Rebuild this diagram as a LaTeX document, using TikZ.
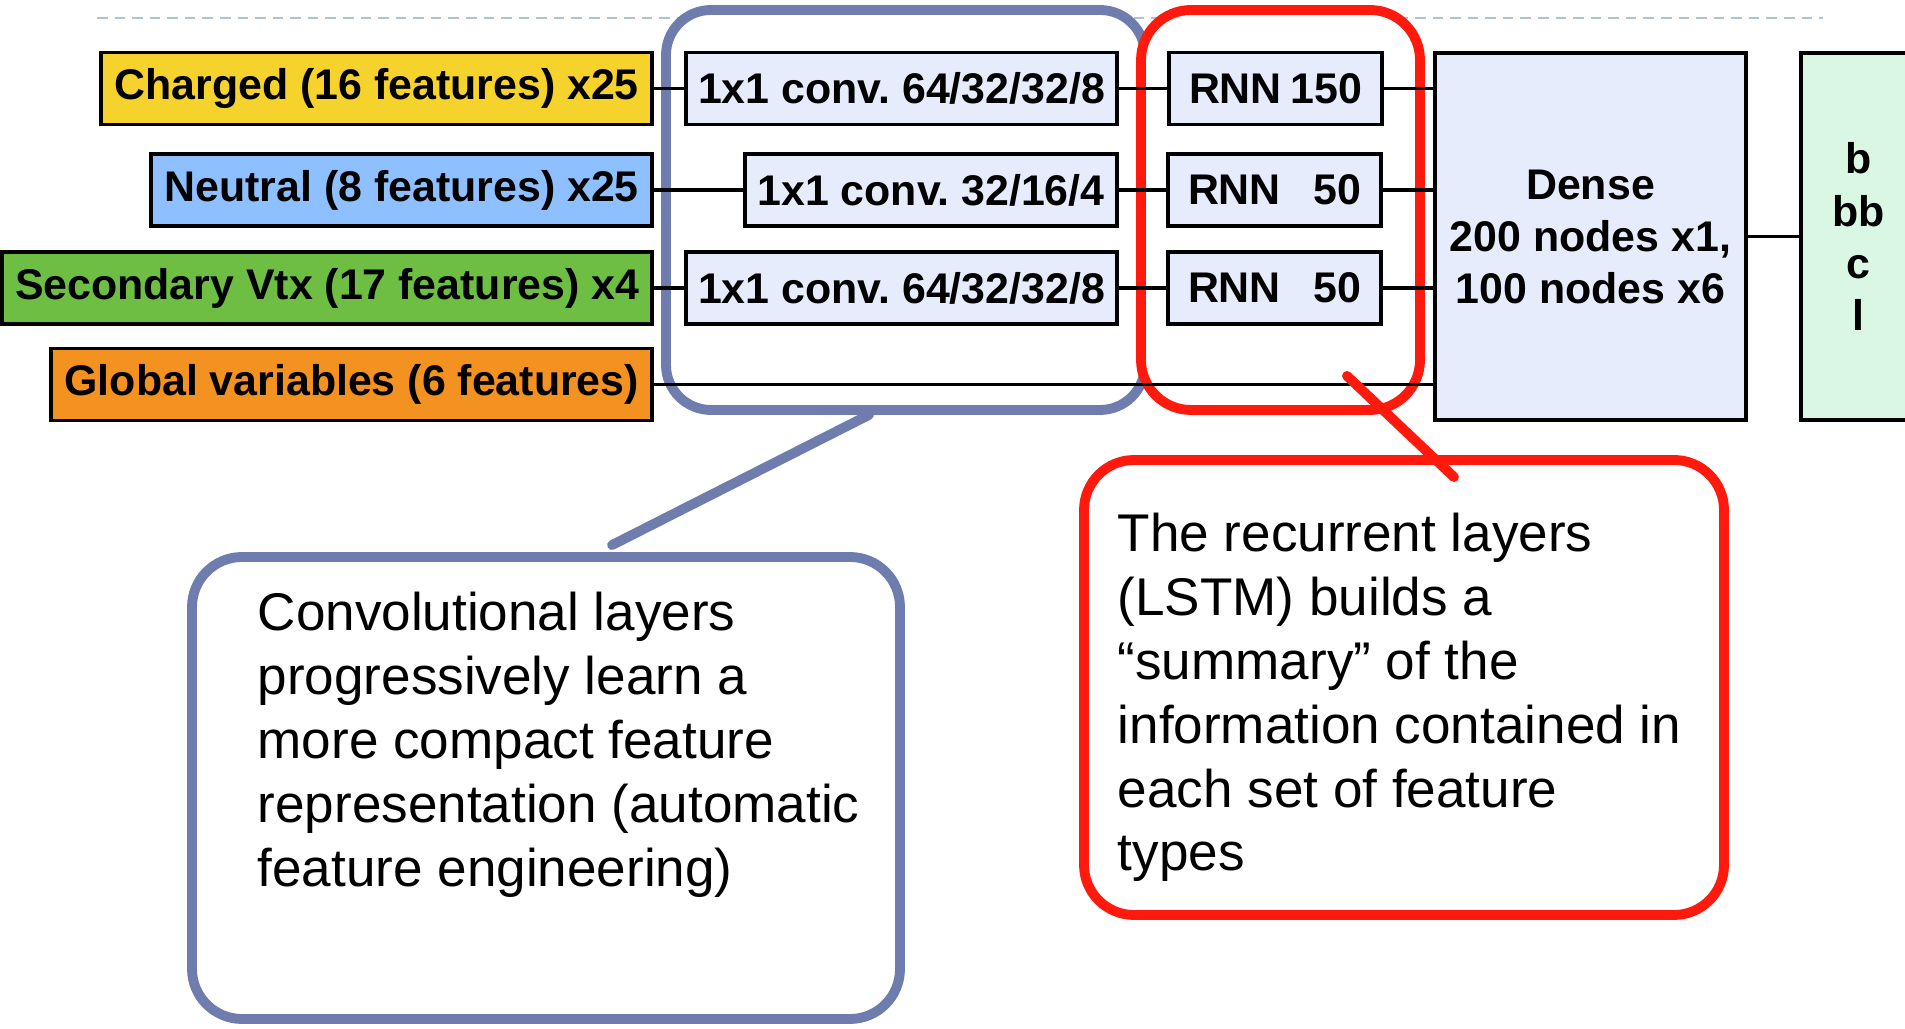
\documentclass[tikz,border=0pt]{standalone}
\usepackage{fontspec}
\setmainfont{Liberation Sans}
\usetikzlibrary{positioning,calc}
\definecolor{jetGold}{HTML}{F6D22C}
\definecolor{jetSky}{HTML}{8EC0FF}
\definecolor{jetLeaf}{HTML}{6EBE44}
\definecolor{jetOrange}{HTML}{F39220}
\definecolor{jetLilac}{HTML}{E6ECFC}
\definecolor{jetMint}{HTML}{DAF7E4}
\definecolor{jetSlate}{HTML}{6F7DAE}
\definecolor{jetRed}{HTML}{FF1A0D}
\definecolor{jetRule}{HTML}{AFC3D6}
\frenchspacing

\begin{document}
\begin{tikzpicture}[font=\fontsize{12.2}{14.8}\selectfont\bfseries,
    box/.style={draw=black,line width=1pt,minimum height=0.72cm,inner sep=0pt,align=center},
    feat/.style={box,anchor=east},
    conv/.style={box,fill=jetLilac,minimum width=4.31cm},
    rnn/.style={box,fill=jetLilac,minimum width=2.13cm,text width=1.73cm,align=left},
    dense/.style={box,fill=jetLilac,minimum width=3.11cm,minimum height=3.67cm},
    outbox/.style={box,fill=jetMint,minimum width=1.15cm,minimum height=3.67cm,anchor=west},
    wire/.style={line width=1.1pt},
    grp/.style={line width=2.8pt,rounded corners=0.45cm,inner sep=0pt,fill=white},
    callout/.style={grp,rounded corners=0.5cm},
    calltext/.style={font=\fontsize{15.1}{18.2}\selectfont,align=left,inner sep=0pt,anchor=north west},
    tail/.style={line width=2.8pt,line cap=round}]

  \useasboundingbox (0,0) rectangle (19.05,-10.29);
  \draw[jetRule,line width=0.6pt,dash pattern=on 3pt off 2pt] (0.97,-0.18) -- (18.23,-0.18);

  % layer groups
  \node[grp,draw=jetSlate,minimum width=4.79cm,minimum height=4.0cm] (cgrp) at (9.055,-2.10) {};
  \node[grp,draw=jetRed,minimum width=2.79cm,minimum height=4.0cm,rounded corners=0.5cm] (rgrp) at (12.805,-2.10) {};

  % input feature sets
  \node[feat,fill=jetGold,minimum width=5.51cm] (ch) at (6.54,-0.885) {Charged (16 features) x25};
  \node[feat,fill=jetSky,minimum width=5.01cm] (ne) at (6.54,-1.90) {Neutral (8 features) x25};
  \node[feat,fill=jetLeaf,minimum width=6.50cm] (sv) at (6.54,-2.88) {Secondary Vtx (17 features) x4};
  \node[feat,fill=jetOrange,minimum width=6.01cm] (gl) at (6.54,-3.845) {Global variables (6 features)};

  % convolutions
  \node[conv] (c1) at (9.015,-0.885) {1x1 conv. 64/32/32/8};
  \node[conv,minimum width=3.72cm] (c2) at (9.31,-1.90) {1x1 conv. 32/16/4};
  \node[conv] (c3) at (9.015,-2.88) {1x1 conv. 64/32/32/8};

  % recurrent layers
  \node[rnn] (r1) at (12.755,-0.885) {RNN\hfill 150};
  \node[rnn] (r2) at (12.745,-1.90) {RNN\hfill 50};
  \node[rnn] (r3) at (12.745,-2.88) {RNN\hfill 50};

  \node[dense] (dn) at (15.905,-2.365) {Dense\\200 nodes x1,\\100 nodes x6};
  \node[outbox] (out) at (17.99,-2.365) {b\\bb\\c\\l};

  \draw[wire] (ch) -- (c1);
  \draw[wire] (ne) -- (c2);
  \draw[wire] (sv) -- (c3);
  \draw[wire] (c1) -- (r1);
  \draw[wire] (c2) -- (r2);
  \draw[wire] (c3) -- (r3);
  \draw[wire] (r1) -- (r1 -| dn.west);
  \draw[wire] (r2) -- (r2 -| dn.west);
  \draw[wire] (r3) -- (r3 -| dn.west);
  \draw[wire] (gl) -- (gl -| dn.west);
  \draw[wire] (dn) -- (out);

  % callouts
  \node[callout,draw=jetSlate,minimum width=7.08cm,minimum height=4.62cm] (cnote) at (5.46,-7.88) {};
  \node[calltext] (ctext) at (2.57,-5.91) {Convolutional layers\\progressively learn a\\more compact feature\\representation (automatic\\feature engineering)};
  \node[callout,draw=jetRed,minimum width=6.40cm,minimum height=4.55cm] (rnote) at (14.04,-6.875) {};
  \node[calltext] (rtext) at (11.17,-5.12) {The recurrent layers\\(LSTM) builds a\\“summary” of the\\information contained in\\each set of feature\\types};

  \draw[tail,jetSlate] ([xshift=-0.365cm]cgrp.south) -- ([xshift=0.66cm,yshift=0.07cm]cnote.north);
  \draw[tail,jetRed] ([shift={(0.665,0.39)}]rgrp.south) -- ([shift={(0.50,-0.22)}]rnote.north);
\end{tikzpicture}
\end{document}
